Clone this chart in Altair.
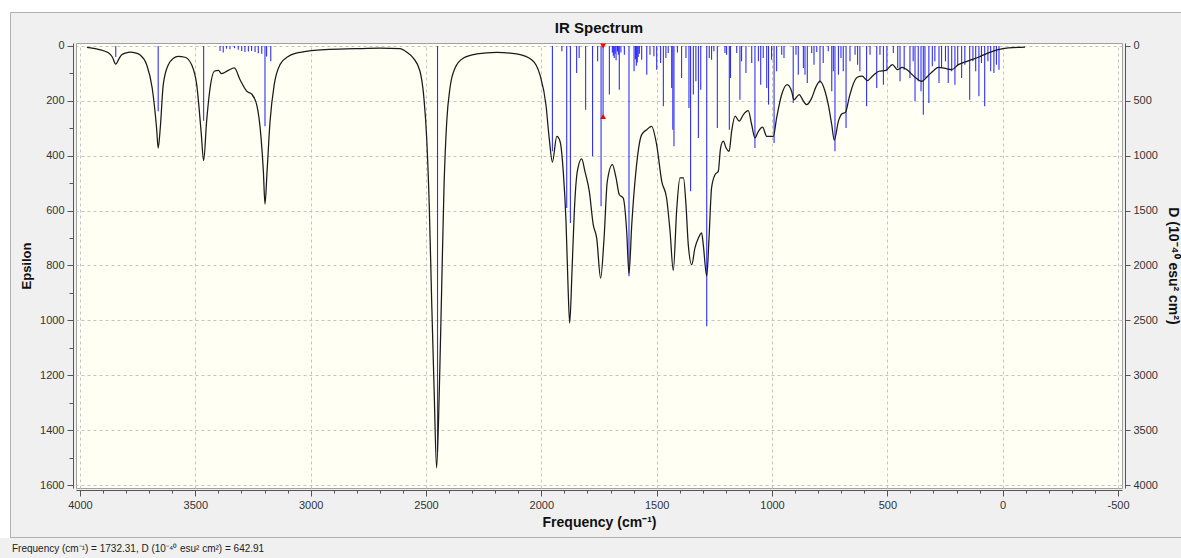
import altair as alt
import pandas as pd

# ---------------- data ----------------
curve_freq = [3970, 3920, 3877, 3860, 3845, 3830, 3819, 3800, 3783, 3760, 3740, 3711, 3687, 3668, 3661,
              3652, 3639, 3617, 3595, 3574, 3545, 3516, 3494, 3475, 3464, 3451, 3436, 3418, 3400, 3386,
              3357, 3331, 3306, 3277, 3256, 3234, 3215, 3205, 3198, 3189, 3176, 3158, 3133, 3097, 3039,
              2938, 2808, 2700, 2613, 2580, 2555, 2526, 2509, 2497, 2486, 2475, 2465, 2454, 2442, 2432,
              2422, 2410, 2396, 2374, 2338, 2280, 2194, 2107, 2042, 2006, 1980, 1966, 1952, 1933, 1919,
              1905, 1893, 1884, 1877, 1867, 1857, 1844, 1825, 1811, 1792, 1775, 1760, 1743, 1728, 1714,
              1692, 1676, 1662, 1645, 1630, 1620, 1608, 1590, 1565, 1543, 1522, 1500, 1478, 1457, 1442,
              1428, 1413, 1399, 1384, 1373, 1363, 1348, 1334, 1319, 1305, 1298, 1283, 1273, 1262, 1247,
              1233, 1223, 1211, 1199, 1186, 1175, 1160, 1142, 1124, 1103, 1088, 1074, 1059, 1041, 1023,
              994, 980, 958, 934, 915, 905, 882, 867, 850, 828, 810, 792, 770, 756, 741,
              730, 712, 698, 681, 666, 649, 630, 609, 587, 565, 536, 507, 478, 456, 435,
              416, 380, 351, 325, 300, 279, 242, 221, 192, 149, 106, 62, 19, -25, -97]
curve_eps = [5, 12, 25, 40, 66, 45, 32, 25, 22, 25, 32, 68, 153, 299, 372,
             299, 141, 68, 45, 38, 41, 68, 141, 311, 418, 274, 153, 92, 89, 101,
             89, 80, 123, 165, 175, 214, 335, 457, 576, 457, 274, 141, 68, 38, 22,
             13, 10, 8, 10, 25, 44, 92, 190, 335, 578, 943, 1246, 1538, 1246, 882,
             517, 274, 153, 80, 44, 29, 23, 29, 50, 105, 214, 335, 423, 329, 347,
             457, 639, 882, 1010, 821, 603, 457, 411, 457, 530, 651, 700, 846, 700, 493,
             432, 481, 542, 554, 675, 830, 651, 457, 323, 305, 293, 360, 493, 554, 675,
             818, 595, 481, 481, 578, 724, 797, 736, 700, 681, 724, 839, 700, 517, 469,
             457, 372, 347, 372, 384, 311, 256, 274, 250, 236, 287, 335, 311, 296, 329,
             329, 262, 177, 141, 165, 196, 177, 196, 214, 190, 150, 128, 165, 214, 287,
             343, 274, 248, 241, 190, 141, 114, 110, 126, 110, 92, 89, 68, 86, 78,
             86, 114, 129, 110, 90, 78, 83, 86, 68, 54, 41, 25, 13, 7, 4]

stick_freq = [3845, 3661, 3464, 3393, 3379, 3365, 3350, 3330, 3314, 3299, 3285, 3270, 3256, 3241, 3227,
              3212, 3191, 3198, 3173, 2450, 1952, 1911, 1890, 1874, 1847, 1836, 1808, 1778, 1756, 1741,
              1732.31, 1705, 1692, 1688, 1684, 1680, 1676, 1670, 1666, 1662, 1655, 1640, 1620, 1598, 1592,
              1588, 1584, 1580, 1575, 1565, 1543, 1529, 1512, 1500, 1483, 1471, 1460, 1450, 1435, 1430,
              1425, 1410, 1392, 1373, 1360, 1353, 1341, 1330, 1319, 1309, 1283, 1272, 1262, 1252, 1237,
              1204, 1197, 1185, 1180, 1153, 1139, 1132, 1113, 1088, 1074, 1059, 1049, 1038, 1023, 1015,
              1002, 991, 980, 958, 948, 908, 896, 886, 864, 857, 847, 828, 818, 806, 792,
              778, 756, 741, 734, 727, 712, 701, 691, 679, 662, 640, 629, 619, 590, 575,
              546, 532, 517, 502, 474, 455, 445, 427, 402, 388, 380, 366, 354, 344, 337,
              320, 305, 294, 276, 265, 248, 236, 221, 207, 195, 178, 164, 143, 129, 117,
              103, 92, 78, 64, 52, 38, 27, 16]
stick_d = [100, 595, 680, 45, 60, 25, 30, 20, 35, 45, 55, 50, 45, 55, 65,
           70, 95, 732, 140, 3700, 960, 48, 1476, 1612, 246, 109, 580, 1005, 140, 1460,
           642.91, 443, 60, 90, 110, 70, 130, 50, 80, 398, 60, 79, 2098, 231, 120,
           180, 150, 100, 70, 125, 261, 79, 94, 216, 155, 549, 109, 64, 383, 762,
           914, 60, 292, 109, 565, 1324, 443, 322, 838, 398, 2554, 109, 125, 48, 747,
           64, 79, 762, 292, 64, 489, 140, 246, 155, 929, 140, 352, 109, 383, 534,
           125, 884, 231, 79, 109, 519, 79, 261, 200, 261, 337, 64, 170, 55, 337,
           155, 48, 413, 231, 959, 261, 109, 231, 747, 140, 79, 170, 231, 549, 79,
           383, 79, 352, 231, 64, 200, 322, 216, 292, 140, 504, 322, 413, 626, 292,
           519, 185, 140, 337, 200, 140, 337, 231, 352, 170, 292, 170, 489, 140, 231,
           458, 155, 549, 140, 231, 246, 170, 216]

sel_freq = [1732.31, 1732.31]
sel_d = [0, 642.91]
sel_shape = ["triangle-down", "triangle-up"]

x_ticks = list(range(4000, -501, -100))
eps_ticks = list(range(0, 1601, 100))
d_ticks = list(range(0, 4001, 500))

chart_title = "IR Spectrum"
status_text = "Frequency (cm\u207b\u00b9) = 1732.31, D (10\u207b\u2074\u2070 esu\u00b2 cm\u00b2) = 642.91"

# ---------------- chart ----------------
X_DOMAIN = [-517.3, 4017.3]
EPS_DOMAIN = [-10.9, 1610.9]
D_DOMAIN = [-27.3, 4027.3]
FONT = "Liberation Sans"

curve_df = pd.DataFrame({"freq": curve_freq, "eps": curve_eps})
stick_df = pd.DataFrame({"freq": stick_freq, "D": stick_d})
sel_df = pd.DataFrame({"freq": sel_freq, "D": sel_d, "shape": sel_shape})

x_scale = alt.Scale(domain=X_DOMAIN, reverse=True, nice=False, zero=False)
x_enc = alt.X(
    "freq:Q", scale=x_scale,
    axis=alt.Axis(
        values=x_ticks, title="Frequency (cm\u207b\u00b9)",
        labelExpr="datum.value % 500 === 0 ? '' + datum.value : ''",
        tickSize={"condition": {"test": "datum.value % 500 === 0", "value": 6}, "value": 3},
        grid=True, gridDash=[3, 3], gridColor="#c4c4c4",
        gridOpacity={"condition": {"test": "datum.value % 500 === 0", "value": 1}, "value": 0},
        labelOverlap=False, labelFlush=False, offset=2, labelPadding=3, titlePadding=5,
    ),
)

d_scale = alt.Scale(domain=D_DOMAIN, reverse=True, nice=False, zero=False)

sticks = alt.Chart(stick_df).mark_rule(color="#1a1aff", strokeWidth=1.1, opacity=0.9).encode(
    x=x_enc,
    y=alt.Y("D:Q", scale=d_scale,
            axis=alt.Axis(orient="right", values=d_ticks, format="d", grid=False,
                          title="D (10\u207b\u2074\u2070 esu\u00b2 cm\u00b2)", tickSize=5, offset=3,
                          labelPadding=3, titlePadding=8, labelOverlap=False, labelFlush=False)),
    y2=alt.Y2Datum(0),
)

curve = alt.Chart(curve_df).mark_line(color="#1a1a1a", strokeWidth=1.25, interpolate="monotone").encode(
    x=x_enc,
    y=alt.Y("eps:Q", scale=alt.Scale(domain=EPS_DOMAIN, reverse=True, nice=False, zero=False),
            axis=alt.Axis(orient="left", values=eps_ticks, title="Epsilon",
                          labelExpr="datum.value % 200 === 0 ? '' + datum.value : ''",
                          tickSize={"condition": {"test": "datum.value % 200 === 0", "value": 6}, "value": 4},
                          grid=True, gridDash=[3, 3], gridColor="#c4c4c4",
                          gridOpacity={"condition": {"test": "datum.value % 200 === 0", "value": 1}, "value": 0},
                          offset=3, labelPadding=3, titlePadding=6, titleFontSize=13,
                          labelOverlap=False, labelFlush=False)),
)

marker = alt.Chart(sel_df).mark_point(filled=True, color="#ff0000", size=34, opacity=1).encode(
    x=x_enc,
    y=alt.Y("D:Q", scale=d_scale, axis=None),
    shape=alt.Shape("shape:N", scale=None, legend=None),
)

title_mark = alt.Chart(pd.DataFrame({"t": [chart_title]})).mark_text(
    align="center", baseline="middle", fontSize=15, fontWeight="bold", font=FONT, color="#111111"
).encode(x=alt.value(523), y=alt.value(-15), text="t:N")

status = alt.Chart(pd.DataFrame({"t": [status_text]})).mark_text(
    align="left", baseline="middle", fontSize=10, font=FONT, color="#222222"
).encode(x=alt.value(-64), y=alt.value(506), text="t:N")

white_left = alt.Chart(pd.DataFrame({"a": [0]})).mark_rect(color="white").encode(
    x=alt.value(-76), x2=alt.value(-66), y=alt.value(-43), y2=alt.value(495))
white_top = alt.Chart(pd.DataFrame({"a": [0]})).mark_rect(color="white").encode(
    x=alt.value(-76), x2=alt.value(1105), y=alt.value(-43), y2=alt.value(-31))
panel = alt.Chart(pd.DataFrame({"a": [0]})).mark_rect(fill="transparent", stroke="#b0b0b0", strokeWidth=1).encode(
    x=alt.value(-65.5), x2=alt.value(1110), y=alt.value(-30.5), y2=alt.value(494.5))

chart = alt.layer(
    white_left, white_top, panel, sticks, curve, marker, title_mark, status
).resolve_scale(y="independent").properties(
    width=1046, height=445,
    autosize=alt.AutoSizeParams(type="none"),
    padding={"left": 76, "top": 43, "right": 59, "bottom": 70},
    background="#f0f0f0",
).configure_view(
    stroke="#a0a0a0", fill="#fffff4"
).configure_axis(
    labelFont=FONT, labelFontSize=11, labelColor="#333333",
    titleFont=FONT, titleFontSize=14, titleFontWeight="bold", titleColor="#111111",
    domainColor="#555555", tickColor="#555555",
)

chart.save("out.html", embed_options={"renderer": "svg", "actions": False})
